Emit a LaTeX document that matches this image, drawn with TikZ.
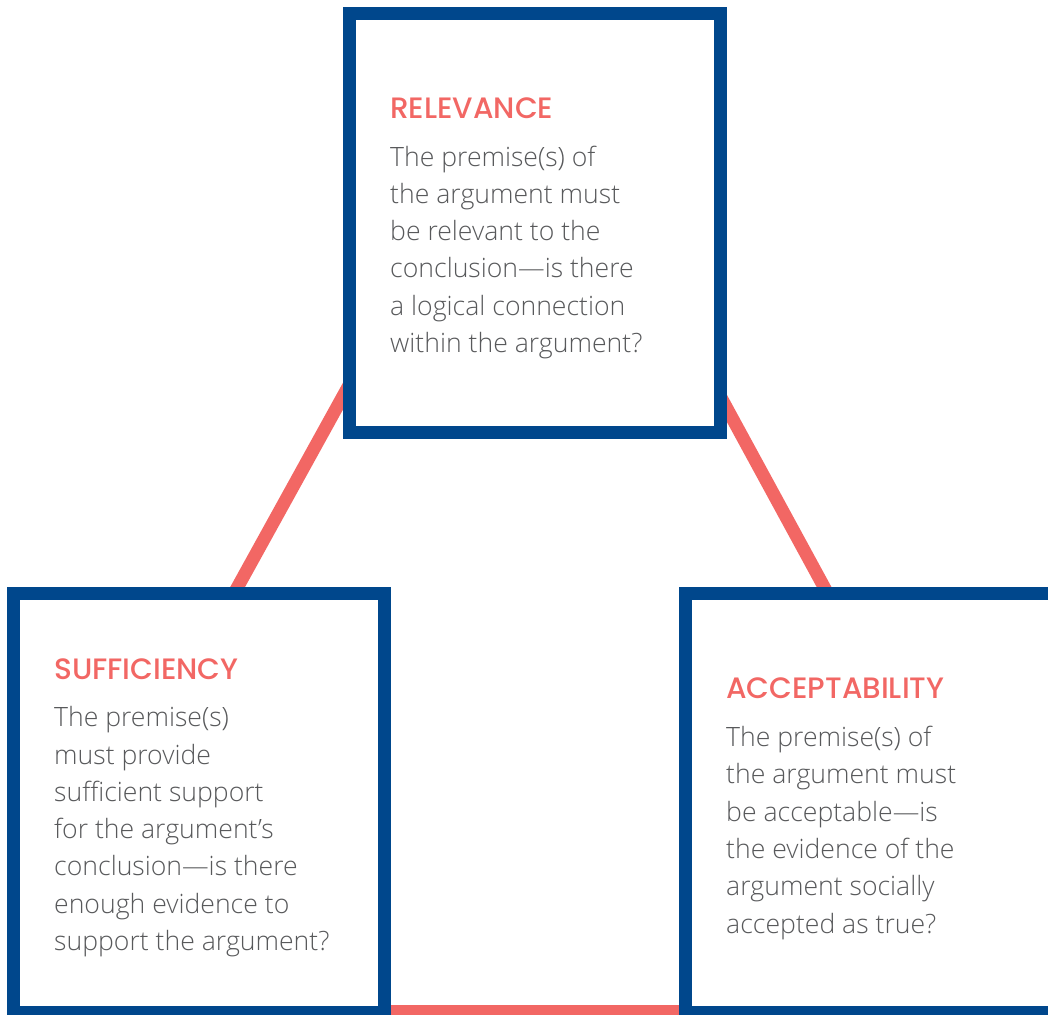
\documentclass[tikz,border=0pt]{standalone}
\usepackage{fontspec}
\IfFontExistsTF{Open Sans Light}{\newfontfamily\bodyfont{Open Sans Light}}{\newfontfamily\bodyfont{Open Sans}}
\IfFontExistsTF{Poppins Medium}{\newfontfamily\titlefont{Poppins Medium}}{\newfontfamily\titlefont{Poppins}}
\definecolor{boxblue}{HTML}{00478C}
\definecolor{tri}{HTML}{F26764}
\definecolor{txt}{HTML}{58595B}
\tikzset{
  panel/.style={draw=boxblue, line width=13pt, fill=white, rectangle, inner sep=0pt,
    minimum width=371pt, minimum height=419pt},
  ttl/.style={anchor=base west, inner sep=0pt, text=tri, font=\titlefont\fontsize{29.5}{32}\selectfont},
  body/.style={anchor=base west, inner sep=0pt, text=txt, align=left,
    font=\bodyfont\fontsize{26.6}{37.3}\selectfont},
  link/.style={draw=tri, line width=13pt}
}
\begin{document}
\begin{tikzpicture}[x=1pt,y=-1pt]
\useasboundingbox (0,0) rectangle (1048,1014);
\clip (0,0) rectangle (1048,1014);
\coordinate (apex) at (533,52);
\coordinate (blA) at (31.7,960);
\coordinate (blB) at (30,1011.5);
\coordinate (br) at (1055,1011.5);
\path[link, line join=bevel] (blB) -- (br) -- (apex) -- (blA);
\node[panel] (rel) at (535,223) {};
\node[panel] (suf) at (199,802.5) {};
\node[panel] (acc) at (871,802.5) {};
\node[ttl] (relt) at (390,118) {RELEVANCE};
\node[body] (relb) at (390,352.5) {The premise(s) of\\the argument must\\be relevant to the\\conclusion—is there\\a logical connection\\within the argument?};
\node[ttl] (suft) at (54,679) {SUFFICIENCY};
\node[body] (sufb) at (54,950.5) {The premise(s)\\must provide\\sufficient support\\for the argument’s\\conclusion—is there\\enough evidence to\\support the argument?};
\node[ttl] (acct) at (726,698) {ACCEPTABILITY};
\node[body] (accb) at (726,933) {The premise(s) of\\the argument must\\be acceptable—is\\the evidence of the\\argument socially\\accepted as true?};
\end{tikzpicture}
\end{document}
